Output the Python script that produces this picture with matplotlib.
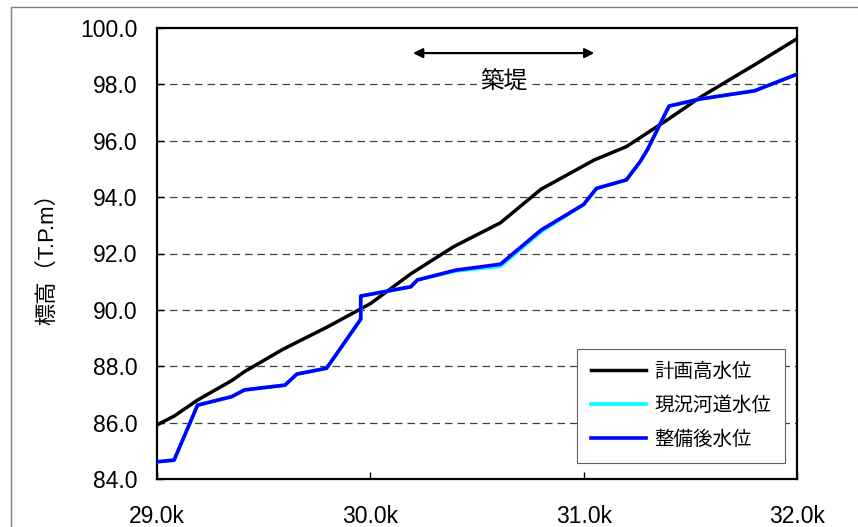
import matplotlib
matplotlib.use("Agg")
import matplotlib.pyplot as plt
from matplotlib.patches import Rectangle

plt.rcParams['font.family'] = ['Liberation Sans', 'Noto Sans CJK JP', 'DejaVu Sans']

# 距離標 (k) と 水位 (T.P.m)
x_plan = [29.0, 29.08, 29.19, 29.35, 29.41, 29.59, 29.80, 30.0, 30.19, 30.39,
          30.61, 30.80, 31.05, 31.20, 31.39, 31.55, 31.80, 32.0]
y_plan = [85.92, 86.23, 86.80, 87.49, 87.81, 88.60, 89.40, 90.22, 91.28, 92.24,
          93.09, 94.28, 95.32, 95.79, 96.73, 97.56, 98.69, 99.62]

x_wl = [29.0, 29.08, 29.19, 29.35, 29.41, 29.60, 29.655, 29.795, 29.955, 29.955,
        30.19, 30.22, 30.40, 30.61, 30.80, 31.0, 31.06, 31.20, 31.265, 31.30,
        31.40, 31.545, 31.80, 32.0]
y_now = [84.61, 84.67, 86.62, 86.92, 87.16, 87.33, 87.72, 87.93, 89.67, 90.49,
         90.82, 91.06, 91.38, 91.55, 92.77, 93.74, 94.31, 94.61, 95.26, 95.70,
         97.23, 97.48, 97.77, 98.36]
y_after = [84.61, 84.67, 86.62, 86.92, 87.16, 87.33, 87.72, 87.93, 89.67, 90.49,
           90.82, 91.06, 91.41, 91.62, 92.83, 93.74, 94.31, 94.61, 95.26, 95.70,
           97.23, 97.48, 97.77, 98.36]

labels = ['計画高水位', '現況河道水位', '整備後水位']
xticks = [29.0, 30.0, 31.0, 32.0]
yticks = [84, 86, 88, 90, 92, 94, 96, 98, 100]
levee = (30.20, 31.05)

W, H = 858, 527
fig = plt.figure(figsize=(W / 100, H / 100), dpi=100)

# 外枠
fig.patches.append(Rectangle((11 / W, -0.1), 1.2, 1.1 - 7 / H, transform=fig.transFigure,
                             fill=False, edgecolor='#808080', linewidth=1.0))

ax = fig.add_axes([157 / W, 1 - 479 / H, 640 / W, 451 / H])

ax.plot(x_plan, y_plan, color='black', lw=2.5, label=labels[0], zorder=3)
ax.plot(x_wl, y_now, color='#00FFFF', lw=2.6, label=labels[1], zorder=4)
ax.plot(x_wl, y_after, color='#0000FF', lw=2.6, label=labels[2], zorder=5)

ax.set_xlim(29.0, 32.0)
ax.set_ylim(84, 100)
ax.set_xticks(xticks)
ax.set_xticklabels([f'{v:.1f}k' for v in xticks])
ax.set_yticks(yticks)
ax.set_yticklabels([f'{v:.1f}' for v in yticks])
ax.tick_params(direction='in', length=5, width=1, labelsize=16.5)
ax.tick_params(axis='y', pad=14)
ax.tick_params(axis='x', pad=19)
for s in ax.spines.values():
    s.set_linewidth(1.6)

for v in yticks[1:-1]:
    ax.axhline(v, color='#404040', lw=0.9, ls=(0, (6, 4)), zorder=1)

ax.set_ylabel('標高（T.P.m）', fontsize=16)
ax.yaxis.set_label_coords(-(157 - 58) / 640, 0.5)

# 築堤区間
ax.annotate('', xy=(levee[0], 99.11), xytext=(levee[1], 99.11),
            arrowprops=dict(arrowstyle='<|-|>', color='black', lw=1.6,
                            mutation_scale=14, shrinkA=0, shrinkB=0))
ax.text(sum(levee) / 2, 98.08, '築堤', ha='center', va='center', fontsize=17,
        bbox=dict(facecolor='white', edgecolor='none', pad=2), zorder=2)

leg = ax.legend(loc='lower right', bbox_to_anchor=(0.981, 0.036), borderaxespad=0,
                fontsize=14, handlelength=2.85, labelspacing=0.8, fancybox=False,
                framealpha=1, edgecolor='#606060', borderpad=0.7, handletextpad=0.4)
leg.get_frame().set_linewidth(0.8)

fig.savefig('out.png', dpi=100)
